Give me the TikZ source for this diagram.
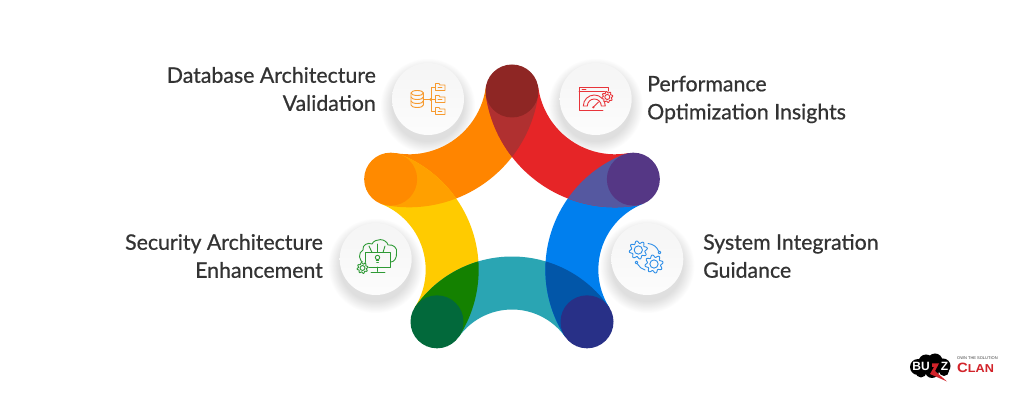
\documentclass[tikz,border=0pt]{standalone}
\usepackage{fontspec}
\setmainfont{Lato}[BoldFont=Lato, BoldFeatures={FakeBold=0.7}]
\newfontfamily\logofont{Liberation Sans}
\definecolor{inkc}{HTML}{333333}
\definecolor{dbc}{HTML}{F79A2E}
\definecolor{perfc}{HTML}{E8343A}
\definecolor{secc}{HTML}{2E9A35}
\definecolor{sysc}{HTML}{2F8FE8}
\definecolor{logored}{HTML}{D2232A}
\tikzset{
  x=1pt,y=1pt,
  label text/.style={font=\fontsize{21.3}{28}\selectfont\bfseries,text=inkc,inner sep=0pt,align=left},
  right label/.style={label text,anchor=west,align=left},
  left label/.style={label text,anchor=east,align=right},
  icon/.style={line width=0.9pt,line cap=round,line join=round},
}
\newcommand{\bandA}{(126:175.2) ++(-100.2:130.45) arc[start angle=-100.2,end angle=-7.8,radius=130.45] -- ++(172.2:53) arc[start angle=-7.8,end angle=-100.2,radius=77.45] -- cycle}
\newcommand{\bandB}{(126:165.2) ++(-104.4:123.8) arc[start angle=-104.4,end angle=-3.6,radius=123.8] -- ++(176.4:53) arc[start angle=-3.6,end angle=-104.4,radius=70.8] -- cycle}
\newcommand{\bandC}{(126:156.2) ++(-108.75:118.3) arc[start angle=-108.75,end angle=0.75,radius=118.3] -- ++(180.75:53) arc[start angle=0.75,end angle=-108.75,radius=65.3] -- cycle}
\newcommand{\softdisc}[2]{%
  \foreach \i in {0,...,15} {\fill[black,opacity=0.006] (#1,#2-7) circle ({36+(15-\i)*0.75});}
  \shade[top color=black!4,bottom color=black!1] (#1,#2) circle (36);
}
\newcommand{\geargl}[4]{%
  \draw[icon,#4] plot[samples=73,domain=0:360,variable=\t] ({#1+#3*(0.86+0.14*sin(8*\t))*cos(\t)},{#2+#3*(0.86+0.14*sin(8*\t))*sin(\t)}) -- cycle;
  \draw[icon,#4] (#1,#2) circle ({#3*0.45});
}
\begin{document}
\begin{tikzpicture}
\useasboundingbox (0,0) rectangle (1024,403);
\fill[white] (0,0) rectangle (1024,403);
\softdisc{428}{304}
\softdisc{595.7}{304}
\softdisc{375.7}{144}
\softdisc{647.3}{144}
\begin{scope}[shift={(512,184.4)}]
 \fill[rotate=0,color={rgb,255:red,255;green,133;blue,0}] \bandA;
 \fill[rotate=72,color={rgb,255:red,255;green,203;blue,0}] \bandB;
 \fill[rotate=144,color={rgb,255:red,42;green,165;blue,179}] \bandC;
 \fill[rotate=216,color={rgb,255:red,0;green,127;blue,238}] \bandB;
 \fill[rotate=288,color={rgb,255:red,230;green,37;blue,39}] \bandA;
 % lenses
 \begin{scope}[rotate=288]\clip \bandA; \fill[rotate=72,color={rgb,255:red,176;green,48;blue,48}] \bandA;\end{scope}
 \begin{scope}[rotate=0]\clip \bandA; \fill[rotate=72,color={rgb,255:red,255;green,160;blue,0}] \bandB;\end{scope}
 \begin{scope}[rotate=72]\clip \bandB; \fill[rotate=72,color={rgb,255:red,20;green,129;blue,0}] \bandC;\end{scope}
 \begin{scope}[rotate=144]\clip \bandC; \fill[rotate=72,color={rgb,255:red,2;green,86;blue,168}] \bandB;\end{scope}
 \begin{scope}[rotate=216]\clip \bandB; \fill[rotate=72,color={rgb,255:red,85;green,88;blue,160}] \bandA;\end{scope}
 % end circles
 \fill[color={rgb,255:red,142;green,38;blue,36}] (90:127.6) circle (26.5);
 \fill[color={rgb,255:red,255;green,138;blue,0}] (162:127.6) circle (26.5);
 \fill[color={rgb,255:red,2;green,105;blue,59}] (234:127.6) circle (26.5);
 \fill[color={rgb,255:red,40;green,48;blue,135}] (306:127.6) circle (26.5);
 \fill[color={rgb,255:red,85;green,55;blue,133}] (18:127.6) circle (26.5);
\end{scope}
% database icon (pixel coordinates, y down)
\begin{scope}[yscale=-1,yshift=-403pt,icon,dbc]
 \draw (411,93) arc[x radius=6.2,y radius=2.5,start angle=180,end angle=-180];
 \draw (411,93) -- (411,105) arc[x radius=6.2,y radius=2.5,start angle=180,end angle=0] -- (423.4,93);
 \draw (411,97) arc[x radius=6.2,y radius=2.5,start angle=180,end angle=0];
 \draw (411,101) arc[x radius=6.2,y radius=2.5,start angle=180,end angle=0];
 \draw (424,99.5) -- (435,99.5);
 \draw (435,87) -- (431,87) -- (431,111.5) -- (435,111.5);
 \fill (430.5,99.5) circle (1.4);
 \foreach \fy in {83.5,95.5,107.5} {
  \draw (435.5,\fy) -- (439,\fy) -- (440,\fy+1.5) -- (445,\fy+1.5) -- (445,\fy+7) -- (435.5,\fy+7) -- cycle;
  \draw (438,\fy+4) -- (442,\fy+4);
 }
\end{scope}
% performance icon
\begin{scope}[yscale=-1,yshift=-403pt,icon,perfc]
 \draw (603,110) -- (579,110) -- (579,87) -- (608,87) -- (608,92);
 \draw (579,91.5) -- (608,91.5);
 \draw (582,89.3) -- (586,89.3);
 \draw (583.3,106) arc[radius=11,start angle=180,end angle=360] -- (601.3,106) arc[radius=7,start angle=360,end angle=180] -- cycle;
 \draw (593.5,107) -- (598.5,102);
 \fill (593.3,107.3) circle (1.2);
\end{scope}
\fill[black!3] (607.3,306) circle (5.8);
\geargl{607.3}{306}{5.6}{perfc}
% security icon
\begin{scope}[yscale=-1,yshift=-403pt,icon,secc]
 \draw (365,263) .. controls (358,262) and (358,252) .. (363,250) .. controls (362,245) and (368,242) .. (372,244) .. controls (375,238) and (386,238) .. (388,245) .. controls (393,244) and (398,248) .. (396.5,253) .. controls (397,258) and (394,262) .. (391,262);
 \draw (365.5,252.5) rectangle (390,267);
 \draw (377.5,267) -- (377.5,271.5);
 \draw (371,272.5) -- (385,272.5);
 \draw (377.5,252.5) -- (377.5,244);
 \draw (372,252.5) -- (369,246);
 \draw (383,252.5) -- (385,246);
 \draw (377.5,257.5) circle (2.2);
 \draw (376.3,260.5) -- (378.7,260.5);
 \draw (376.7,262.5) -- (378.3,262.5);
\end{scope}
\fill[black!3] (362.5,135) circle (6);
\geargl{362.5}{135}{5.5}{secc}
% system icon
\geargl{638.3}{153}{9.2}{sysc}
\geargl{654}{139}{9.2}{sysc}
\begin{scope}[yscale=-1,yshift=-403pt,icon,sysc]
 \draw (648,243.5) .. controls (653,244) and (657,247) .. (658.5,251);
 \draw (659.5,252.5) circle (1.4);
 \draw (636.5,262.5) circle (1.4);
 \draw (637.5,264) .. controls (639,267) and (642,269) .. (645,270);
\end{scope}
% labels
\node[left label] (dbl) at (376,314) {Database Architecture\\Validation};
\node[right label] (perf) at (647,303.5) {Performance\\Optimization Insights};
\node[left label] (sec) at (323,147) {Security Architecture\\Enhancement};
\node[right label] (sys) at (703,147) {System Integration\\Guidance};
% logo
\fill[black] (918,36) circle (8) (926,41) circle (7.5) (935,42) circle (7.5) (943,37) circle (7.5) (932,32) circle (7) (921,31) circle (5.5) (944,32) circle (5);
\node[inner sep=0pt,text=white,font=\logofont\bfseries\fontsize{12}{12}\selectfont] (bu) at (921,37) {BU};
\node[inner sep=0pt,text=white,font=\logofont\bfseries\fontsize{12}{12}\selectfont] (zz) at (944.5,37) {Z};
\fill[logored] (932,39.5) -- (939,39.5) -- (935,32) -- (947,21.5) -- (930,29) -- (934,36) -- (932,36) -- cycle;
\node[inner sep=0pt,text=logored,anchor=west,font=\logofont\bfseries\fontsize{13.5}{13.5}\selectfont,xscale=1.1] (clan) at (957,35) {C\fontsize{11.5}{11.5}\selectfont LAN};
\node[inner sep=0pt,text=black!75,anchor=west,font=\logofont\fontsize{4}{4}\selectfont] (tag) at (957,44.5) {OWN THE SOLUTION};
\end{tikzpicture}
\end{document}
